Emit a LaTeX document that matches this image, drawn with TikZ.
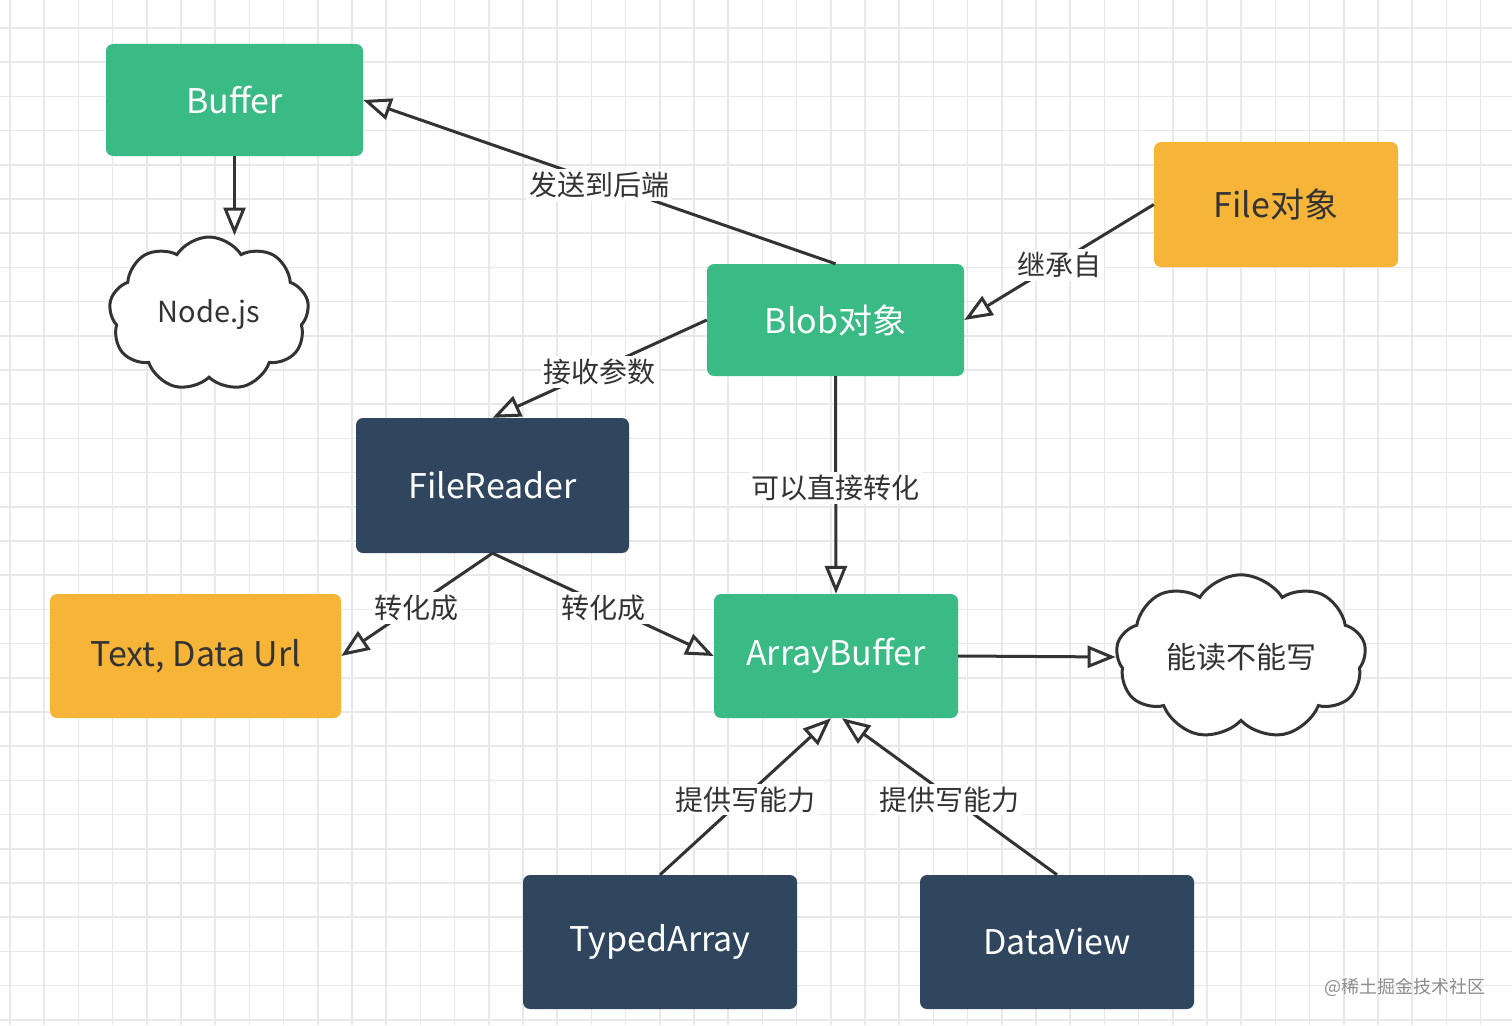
\documentclass[tikz,border=0pt]{standalone}
\usepackage{fontspec}
\setmainfont{Noto Sans CJK SC}
\usetikzlibrary{shapes.symbols,arrows.meta,calc}
\definecolor{boxgreen}{RGB}{58,186,133}
\definecolor{boxorange}{RGB}{246,181,56}
\definecolor{boxdark}{RGB}{47,70,94}
\definecolor{inkgray}{RGB}{51,51,51}
\definecolor{gridgray}{RGB}{232,232,232}
\tikzset{
  box/.style={rectangle, rounded corners=7pt, inner sep=0pt, font=\fontsize{34}{40}\selectfont},
  greenbox/.style={box, fill=boxgreen, text=white},
  darkbox/.style={box, fill=boxdark, text=white},
  orangebox/.style={box, fill=boxorange, text=inkgray},
  cloudnode/.style={cloud, cloud puffs=9, cloud puff arc=115, draw=inkgray, line width=3pt, fill=white, text=inkgray, inner sep=0pt, font=\fontsize{29}{34}\selectfont},
  conn/.style={draw=inkgray, line width=3pt, -{Triangle[open, length=28pt, width=22pt, line width=3pt]}},
  lbl/.style={fill=white, text=inkgray, inner sep=3pt, yshift=-3pt, font=\fontsize{28}{32}\selectfont}
}
\begin{document}
\begin{tikzpicture}[x=1pt,y=-1pt]
\useasboundingbox (0,0) rectangle (1512,1025);
\fill[white] (0,0) rectangle (1512,1025);
% grid
\foreach \i in {0,...,44} {
  \draw[gridgray, line width=1.6pt] ({10+34.2*\i},0) -- ({10+34.2*\i},1025);
}
\foreach \j in {0,...,29} {
  \draw[gridgray, line width=1.6pt] (0,{28+34.2*\j}) -- (1512,{28+34.2*\j});
}
% nodes
\node[greenbox, minimum width=257pt, minimum height=112pt] (buffer) at (234.5,100) {Buffer};
\node[cloudnode, aspect=1.3, minimum width=200pt, minimum height=154pt] (nodejs) at (209,314) {Node.js};
\node[orangebox, minimum width=244pt, minimum height=125pt] (file) at (1276,204.5) {File对象};
\node[greenbox, minimum width=257pt, minimum height=112pt] (blob) at (835.5,320) {Blob对象};
\node[darkbox, minimum width=273pt, minimum height=135pt] (fr) at (492.5,485.5) {FileReader};
\node[orangebox, minimum width=291pt, minimum height=124pt] (text) at (195.5,656) {Text, Data Url};
\node[greenbox, minimum width=244pt, minimum height=124pt] (ab) at (836,656) {ArrayBuffer};
\node[cloudnode, aspect=1.6, minimum width=250pt, minimum height=155pt, font=\fontsize{30}{34}\selectfont] (rw) at (1241,657) {能读不能写};
\node[darkbox, minimum width=274pt, minimum height=134pt] (ta) at (660,942) {TypedArray};
\node[darkbox, minimum width=274pt, minimum height=134pt] (dv) at (1057,942) {DataView};
% connectors
\draw[conn] (buffer.south) -- (buffer.south |- nodejs.north);
\draw[conn] (blob.north) -- node[lbl] {发送到后端} (buffer.east);
\draw[conn] (file.west) -- node[lbl] {继承自} (blob.east);
\draw[conn] (blob.west) -- node[lbl] {接收参数} (fr.north);
\draw[conn] (blob.south) -- node[lbl] {可以直接转化} (ab.north);
\draw[conn] (fr.south) -- node[lbl] {转化成} (text.east);
\draw[conn] (fr.south) -- node[lbl] {转化成} (ab.west);
\draw[conn] (ab.east) -- (rw.west);
\draw[conn] (ta.north) -- node[lbl] {提供写能力} ([xshift=-5pt]ab.south);
\draw[conn] (dv.north) -- node[lbl] {提供写能力} ([xshift=6pt]ab.south);
% watermark
\node[text=black!45, font=\fontsize{18}{22}\selectfont, inner sep=0pt] (wm) at (1405,987) {@稀土掘金技术社区};
\end{tikzpicture}
\end{document}
